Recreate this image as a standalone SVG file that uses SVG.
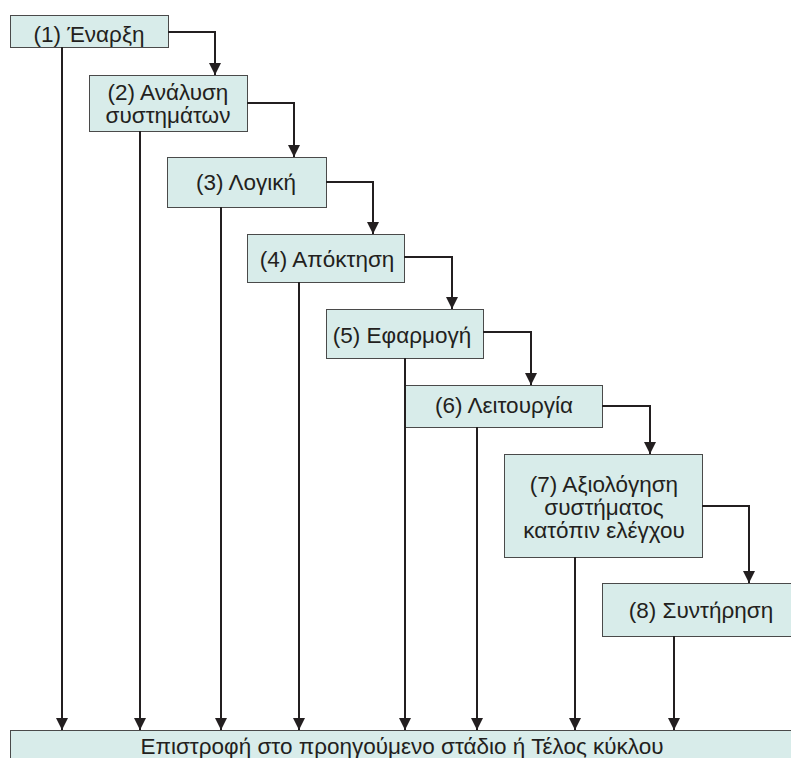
<svg xmlns="http://www.w3.org/2000/svg" width="791" height="758" viewBox="0 0 791 758">
<defs>
<marker id="arr" markerUnits="userSpaceOnUse" markerWidth="12" markerHeight="12" viewBox="0 0 10 10" refX="10" refY="5" orient="auto">
<path d="M0,0 L10,5 L0,10 Z" fill="#231f20"/>
</marker>
<style>
.box{fill:#d8ecea;stroke:#4a4a4a;stroke-width:1}
.t{font-family:"Liberation Sans",Arial,sans-serif;font-size:22.5px;fill:#231f20;text-anchor:middle}
.c{fill:none;stroke:#231f20;stroke-width:2;marker-end:url(#arr)}
</style>
</defs>
<rect width="791" height="758" fill="#ffffff"/>
<g id="n1"><rect class="box" x="10.5" y="15.5" width="158" height="32"/><text class="t" x="89" y="42">(1) Έναρξη</text></g>
<g id="n2"><rect class="box" x="89.5" y="75.5" width="158" height="56"/><text class="t" x="168" y="100">(2) Ανάλυση</text><text class="t" x="168" y="123">συστημάτων</text></g>
<g id="n3"><rect class="box" x="167.5" y="157.5" width="159" height="50"/><text class="t" x="246" y="190">(3) Λογική</text></g>
<g id="n4"><rect class="box" x="247.5" y="234.5" width="157" height="48"/><text class="t" x="327" y="267">(4) Απόκτηση</text></g>
<g id="n5"><rect class="box" x="326.5" y="309.5" width="157" height="49"/><text class="t" x="402" y="343">(5) Εφαρμογή</text></g>
<g id="n6"><rect class="box" x="405.5" y="385.5" width="197" height="42"/><text class="t" x="504" y="413">(6) Λειτουργία</text></g>
<g id="n7"><rect class="box" x="504.5" y="454.5" width="198" height="103"/><text class="t" x="604" y="492">(7) Αξιολόγηση</text><text class="t" x="604" y="515">συστήματος</text><text class="t" x="604" y="538">κατόπιν ελέγχου</text></g>
<g id="n8"><rect class="box" x="602.5" y="583.5" width="200" height="53"/><text class="t" x="701" y="618">(8) Συντήρηση</text></g>
<g id="n9"><rect class="box" x="10.5" y="730.5" width="800" height="40"/><text class="t" x="402" y="754">Επιστροφή στο προηγούμενο στάδιο ή Τέλος κύκλου</text></g>
<g id="connectors">
<path class="c" d="M168,32 H215 V75"/>
<path class="c" d="M247,103 H294 V157"/>
<path class="c" d="M326,182 H373 V234"/>
<path class="c" d="M404,257 H452 V309"/>
<path class="c" d="M483,332 H531 V385"/>
<path class="c" d="M602,406 H650 V454"/>
<path class="c" d="M702,506 H749 V583"/>
<path class="c" d="M62,47 V730"/>
<path class="c" d="M140,131 V730"/>
<path class="c" d="M221,207 V730"/>
<path class="c" d="M299,282 V730"/>
<path class="c" d="M405,358 V730"/>
<path class="c" d="M477,427 V730"/>
<path class="c" d="M575,557 V730"/>
<path class="c" d="M674,636 V730"/>
</g>
</svg>
